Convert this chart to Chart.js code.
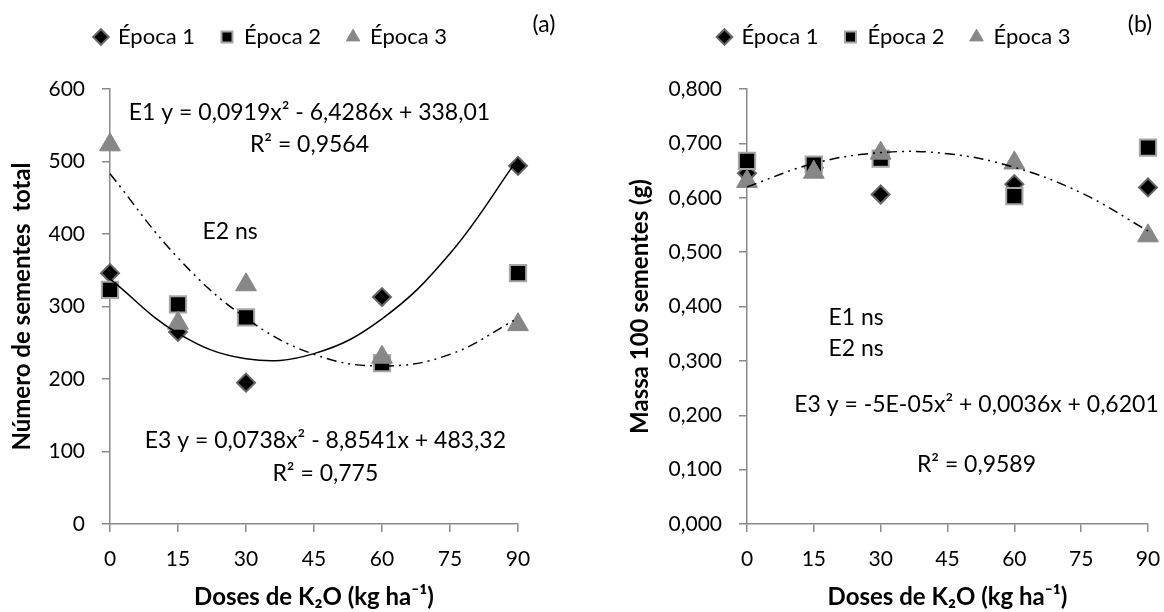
<!DOCTYPE html>
<html>
<head>
<meta charset="utf-8">
<script src="https://cdn.jsdelivr.net/npm/chart.js@4.4.0/dist/chart.umd.min.js"></script>
<style>
  body { margin: 0; background: #fff; }
  .panel { position: absolute; top: 0; width: 582px; height: 612px; }
  #boxA { left: 0; }
  #boxB { left: 582px; }
</style>
</head>
<body>
<div class="panel" id="boxA"><canvas id="chartA" width="582" height="612"></canvas></div>
<div class="panel" id="boxB"><canvas id="chartB" width="582" height="612"></canvas></div>
<script>
const doses = [0, 15, 30, 60, 90];
const trendDoses = [0, 15, 30, 45, 60, 75, 90];
const seriesNames = ['Época 1', 'Época 2', 'Época 3'];

// (a) número de sementes total
const sementesE1 = [346, 265, 195, 313, 494];
const sementesE2 = [323, 303, 285, 222, 346];
const sementesE3 = [523, 277, 330, 230, 275];
const sementesTrendE1 = [338, 263, 228, 235, 283, 373, 504];
const sementesTrendE3 = [483, 367, 284, 234, 218, 234, 284];
const sementesTicks = [0, 100, 200, 300, 400, 500, 600];

// (b) massa de 100 sementes
const massaE1 = [0.645, 0.655, 0.606, 0.625, 0.619];
const massaE2 = [0.668, 0.661, 0.672, 0.603, 0.692];
const massaE3 = [0.630, 0.647, 0.682, 0.664, 0.530];
const massaTrendE3 = [0.620, 0.663, 0.683, 0.681, 0.656, 0.609, 0.539];
const massaTicks = [0, 0.1, 0.2, 0.3, 0.4, 0.5, 0.6, 0.7, 0.8];

const doseTicks = [0, 15, 30, 45, 60, 75, 90];

const axisGray = '#8a8a8a';
const dashDotDot = [10, 5, 2, 5, 2, 5];
const fontFamily = "Lato, 'DejaVu Sans', sans-serif";

Chart.defaults.font.family = fontFamily;
Chart.defaults.font.size = 21;
Chart.defaults.color = '#000';

function pairs(xs, ys) {
  return xs.map((x, i) => ({ x: x, y: ys[i] }));
}

function markerSets(e1, e2, e3) {
  return [
    { label: seriesNames[0], data: pairs(doses, e1), pointStyle: 'rectRot', pointRadius: 9,
      backgroundColor: '#000', borderColor: '#666', borderWidth: 2, order: 3, clip: false },
    { label: seriesNames[1], data: pairs(doses, e2), pointStyle: 'rect', pointRadius: 11.5,
      backgroundColor: '#000', borderColor: '#a6a6a6', borderWidth: 2, order: 2, clip: false },
    { label: seriesNames[2], data: pairs(doses, e3), pointStyle: 'triangle', pointRadius: 12,
      backgroundColor: '#878787', borderColor: '#878787', borderWidth: 1, order: 1, clip: false }
  ];
}

function trendSet(values, dash) {
  return { label: 'trend', data: pairs(trendDoses, values), showLine: true, pointRadius: 0,
    borderColor: '#000', borderWidth: 1.5, borderDash: dash, tension: 0.4, order: 0, clip: false };
}

// texto das equações e rótulos (a)/(b)
const notesPlugin = {
  id: 'notes',
  afterDraw(chart, args, opts) {
    const { ctx, scales } = chart;
    ctx.save();
    ctx.font = '23px ' + fontFamily;
    ctx.fillStyle = '#000';
    ctx.textAlign = 'center';
    ctx.textBaseline = 'middle';
    opts.items.forEach(n => {
      ctx.fillText(n.text, scales.x.getPixelForValue(n.x), scales.y.getPixelForValue(n.y));
    });
    ctx.fillText(opts.tag, opts.tagX, opts.tagY);
    ctx.restore();
  }
};

function makeChart(id, cfg) {
  return new Chart(document.getElementById(id), {
    type: 'scatter',
    data: { datasets: cfg.datasets },
    plugins: [notesPlugin],
    options: {
      responsive: false,
      animation: false,
      layout: { padding: { top: 0, bottom: 0, left: cfg.padLeft, right: cfg.padRight } },
      plugins: {
        legend: {
          position: 'top',
          labels: {
            usePointStyle: true, boxWidth: 12, boxHeight: 11, padding: 26,
            font: { size: 22 }, color: '#000',
            filter: item => item.datasetIndex < 3,
            sort: (a, b) => a.datasetIndex - b.datasetIndex
          }
        },
        // espaço entre a legenda e o gráfico
        title: { display: true, text: '', weight: 500, padding: 0, font: { size: 31, lineHeight: 1 } },
        tooltip: { enabled: false },
        notes: { items: cfg.notes, tag: cfg.tag, tagX: cfg.tagX, tagY: 25 }
      },
      scales: {
        x: {
          type: 'linear', min: 0, max: 90,
          afterBuildTicks: s => { s.ticks = doseTicks.map(v => ({ value: v })); },
          ticks: { padding: 15, color: '#000', font: { size: 21 } },
          grid: { drawOnChartArea: false, drawTicks: true, tickLength: 8, color: axisGray, lineWidth: 1.5 },
          border: { color: axisGray, width: 1.5 },
          title: { display: true, text: 'Doses de K₂O (kg ha⁻¹)', color: '#000',
            font: { size: 24, weight: 'bold' }, padding: { top: 0, bottom: 0 } },
          afterFit: s => { s.height = 88; s.paddingLeft = 0; s.paddingRight = 0; }
        },
        y: {
          type: 'linear', min: 0, max: cfg.yMax,
          afterBuildTicks: s => { s.ticks = cfg.yTicks.map(v => ({ value: v })); },
          ticks: { padding: 17, color: '#000', font: { size: 21 }, callback: cfg.fmt },
          grid: { drawOnChartArea: false, drawTicks: true, tickLength: 8, color: axisGray, lineWidth: 1.5 },
          border: { color: axisGray, width: 1.5 },
          title: { display: true, text: cfg.yTitle, color: '#000',
            font: { size: 24, weight: 'bold' }, padding: { top: cfg.titlePad, bottom: 0 } },
          afterFit: s => { s.width = cfg.yWidth; }
        }
      }
    }
  });
}

makeChart('chartA', {
  datasets: markerSets(sementesE1, sementesE2, sementesE3)
    .concat([trendSet(sementesTrendE1, []), trendSet(sementesTrendE3, dashDotDot)]),
  padLeft: 24, padRight: 64, yWidth: 86, titlePad: -16,
  yMax: 600, yTicks: sementesTicks, fmt: v => String(v),
  yTitle: 'Número de sementes  total',
  tag: '(a)', tagX: 544,
  notes: [
    { text: 'E1 y = 0,0919x² - 6,4286x + 338,01', x: 44, y: 568 },
    { text: 'R² = 0,9564', x: 44, y: 524 },
    { text: 'E2 ns', x: 26.5, y: 403 },
    { text: 'E3 y = 0,0738x² - 8,8541x + 483,32', x: 47.5, y: 115 },
    { text: 'R² = 0,775', x: 47.5, y: 69 }
  ]
});

makeChart('chartB', {
  datasets: markerSets(massaE1, massaE2, massaE3).concat([trendSet(massaTrendE3, dashDotDot)]),
  padLeft: 59, padRight: 16, yWidth: 106, titlePad: -15,
  yMax: 0.8, yTicks: massaTicks, fmt: v => v.toFixed(3).replace('.', ','),
  yTitle: 'Massa 100 sementes (g)',
  tag: '(b)', tagX: 558,
  notes: [
    { text: 'E1 ns', x: 24.5, y: 0.379 },
    { text: 'E2 ns', x: 24.5, y: 0.322 },
    { text: 'E3 y = -5E-05x² + 0,0036x + 0,6201', x: 51.5, y: 0.219 },
    { text: 'R² = 0,9589', x: 51.5, y: 0.110 }
  ]
});
</script>
</body>
</html>
